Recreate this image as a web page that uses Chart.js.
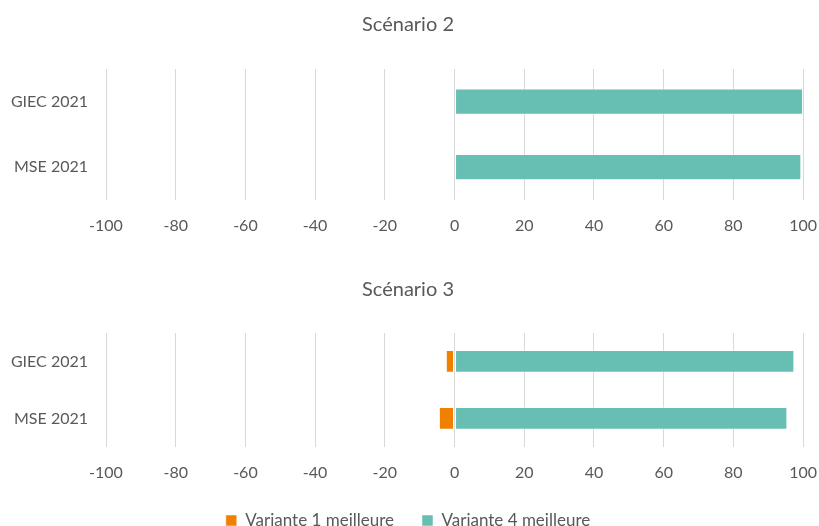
<!DOCTYPE html>
<html>
<head>
<meta charset="utf-8">
<script src="https://cdn.jsdelivr.net/npm/chart.js@4.4.0/dist/chart.umd.min.js"></script>
<style>
    html, body { margin: 0; padding: 0; background: #fff; overflow: hidden; }
    #wrap { position: relative; width: 819px; height: 526px; }
    .box { position: absolute; left: 0; width: 819px; }
</style>
</head>
<body>
<div id="wrap">
    <div class="box" style="top:0; height:240px;"><canvas id="chartS2"></canvas></div>
    <div class="box" style="top:258px; height:281px;"><canvas id="chartS3"></canvas></div>
</div>
<script>
// Data
var categories = ['GIEC 2021', 'MSE 2021'];
var seriesNames = ['Variante 1 meilleure', 'Variante 4 meilleure'];
var s2Variante1 = [0, -0.5];
var s2Variante4 = [100, 99.5];
var s3Variante1 = [-2.5, -4.5];
var s3Variante4 = [97.5, 95.5];
var xMin = -100, xMax = 100, xStep = 20;

var ORANGE = '#F08100';
var TEAL = '#67BFB3';
var TEXT = '#595959';
var FONT = 'Lato, "Open Sans", sans-serif';

Chart.defaults.font.family = FONT;
Chart.defaults.color = TEXT;

function makeChart(id, title, v1, v4, showLegend, pad) {
    var ctx = document.getElementById(id).getContext('2d');
    return new Chart(ctx, {
        type: 'bar',
        data: {
            labels: categories,
            datasets: [{
                label: seriesNames[0],
                data: v1,
                backgroundColor: ORANGE,
                borderColor: 'rgba(255, 255, 255, 0.5)',
                borderWidth: 1,
                borderSkipped: false,
                barPercentage: 0.5,
                categoryPercentage: 0.8
            }, {
                label: seriesNames[1],
                data: v4,
                backgroundColor: TEAL,
                borderColor: 'rgba(255, 255, 255, 0.5)',
                borderWidth: 1,
                borderSkipped: false,
                barPercentage: 0.5,
                categoryPercentage: 0.8
            }]
        },
        options: {
            indexAxis: 'y',
            responsive: true,
            maintainAspectRatio: false,
            animation: false,
            layout: { padding: { left: 0, right: pad.right, top: 0, bottom: pad.bottom } },
            plugins: {
                title: {
                    display: true,
                    text: title,
                    color: TEXT,
                    font: { size: 20, weight: 'normal' },
                    padding: { top: pad.titleTop, bottom: pad.titleBottom }
                },
                legend: {
                    display: showLegend,
                    position: 'bottom',
                    labels: {
                        boxWidth: 11,
                        boxHeight: 11,
                        padding: 28,
                        color: TEXT,
                        font: { size: 17, lineHeight: 1 }
                    }
                },
                tooltip: { enabled: false }
            },
            scales: {
                x: {
                    stacked: true,
                    min: xMin,
                    max: xMax,
                    ticks: { stepSize: xStep, padding: 2, color: TEXT, font: { size: 16 } },
                    grid: { color: '#d9d9d9', lineWidth: 1, drawTicks: true, tickLength: 14, tickColor: 'rgba(0,0,0,0)' },
                    border: { display: false }
                },
                y: {
                    stacked: true,
                    ticks: { padding: 18, color: TEXT, font: { size: 16 } },
                    grid: { display: false, drawTicks: false },
                    border: { display: false },
                    afterFit: function (axis) { axis.width = 106; }
                }
            }
        }
    });
}

makeChart('chartS2', 'Scénario 2', s2Variante1, s2Variante4, false,
    { right: 3, bottom: 3, titleTop: 13, titleBottom: 32 });
makeChart('chartS3', 'Scénario 3', s3Variante1, s3Variante4, true,
    { right: 3, bottom: 0, titleTop: 20, titleBottom: 31 });
</script>
</body>
</html>
